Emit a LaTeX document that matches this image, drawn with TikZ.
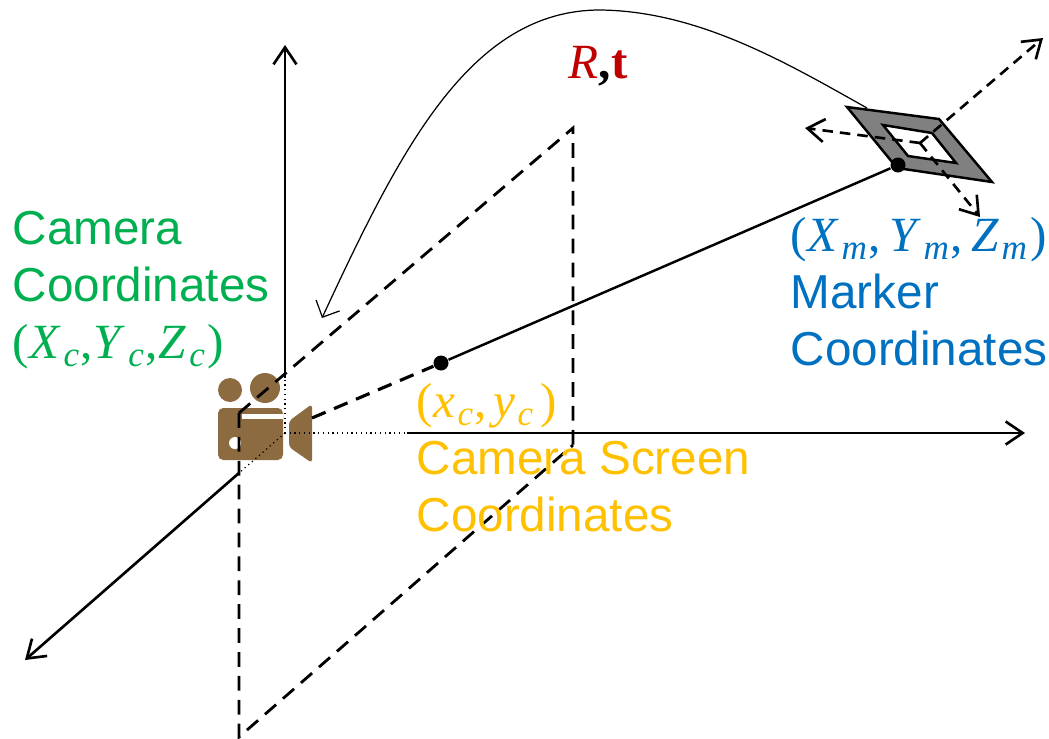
\documentclass[tikz,border=0pt]{standalone}
\usepackage{fontspec}
\setmainfont{Liberation Sans}
\newfontfamily\eqnfont{Liberation Serif}
\usepackage{tikz}
\usetikzlibrary{arrows.meta}
\definecolor{camgreen}{RGB}{0,176,80}
\definecolor{markblue}{RGB}{0,112,192}
\definecolor{screenyellow}{RGB}{255,192,0}
\definecolor{posered}{RGB}{192,0,0}
\definecolor{iconbrown}{RGB}{139,107,63}
\newcommand{\eqnsize}{\eqnfont\fontsize{14}{16.2}\selectfont}
\newcommand{\coordvar}[2]{\textit{#1}\kern0.8pt\raisebox{-2.2pt}{\fontsize{10}{10}\selectfont\textit{#2}}\kern0.3pt}

\begin{document}
\begin{tikzpicture}[
  axis/.style={-{Straight Barb[length=1.7mm,width=2.3mm]}, line width=0.75pt, black},
  dashaxis/.style={axis, dash pattern=on 3pt off 2pt},
  planeline/.style={line width=0.8pt, dash pattern=on 4.2pt off 2.6pt},
  ray/.style={line width=0.7pt, black},
  dotline/.style={line width=0.35pt, densely dotted},
  point/.style={circle, fill=black, inner sep=0pt, minimum size=0.15cm},
  caption/.style={font=\fontsize{13.55}{16.2}\selectfont, align=left, anchor=north west, inner sep=0pt}
]
  \useasboundingbox (0,0) rectangle (10.49,7.38);

  % camera icon
  \fill[iconbrown] (2.30,3.48) circle (0.12);
  \fill[iconbrown] (2.65,3.50) circle (0.15);
  \fill[iconbrown, rounded corners=1.5pt] (2.18,2.78) rectangle (2.83,3.30);
  \fill[white] (2.42,3.19) rectangle (2.83,3.24);
  \fill[white] (2.35,2.95) circle (0.06);
  \fill[iconbrown, rounded corners=1pt] (3.12,3.34) -- (2.89,3.17) -- (2.89,2.91) -- (3.12,2.75) -- cycle;

  \coordinate (origin) at (2.85,3.05);
  \coordinate (zjoint) at (2.85,3.60);
  \coordinate (ztip) at (2.85,6.93);
  \coordinate (xjoint) at (4.07,3.05);
  \coordinate (xtip) at (10.25,3.05);
  \coordinate (yjoint) at (2.39,2.65);
  \coordinate (ytip) at (0.25,0.78);

  \coordinate (planetr) at (5.73,6.10);
  \coordinate (planebr) at (5.73,2.93);
  \coordinate (planebl) at (2.39,0.01);
  \coordinate (planetl) at (2.39,3.25);

  \draw[dotline] (origin) -- (zjoint);
  \draw[dotline] (origin) -- (xjoint);
  \draw[dotline] (origin) -- (yjoint);
  \draw[axis] (zjoint) -- (ztip);
  \draw[axis] (xjoint) -- (xtip);
  \draw[axis] (yjoint) -- (ytip);

  \draw[planeline] (planetl) -- (planetr) -- (planebr);
  \draw[planeline] (planetl) -- (planebl) -- (planebr);

  % marker plate
  \fill[fill=gray, even odd rule, draw=black, line width=0.7pt]
    (8.47,6.31) -- (9.39,6.19) -- (9.92,5.56) -- (8.97,5.70) -- cycle
    (8.83,6.13) -- (9.32,6.05) -- (9.56,5.75) -- (9.08,5.82) -- cycle;

  \coordinate (mcentre) at (9.20,5.95);
  \coordinate (mtipa) at (10.43,7.00);
  \coordinate (mtipb) at (8.05,6.10);
  \coordinate (mtipc) at (9.80,5.21);
  \draw[dashaxis] (mcentre) -- (mtipa);
  \draw[dashaxis] (mcentre) -- (mtipb);
  \draw[dashaxis] (mcentre) -- (mtipc);

  \coordinate (lens) at (3.12,3.20);
  \node[point] (screenpt) at (4.41,3.75) {};
  \node[point] (markerpt) at (8.98,5.73) {};
  \draw[ray] (screenpt) -- (markerpt);
  \draw[planeline, line width=0.9pt] (lens) -- (screenpt);

  % pose arrow
  \coordinate (posestart) at (8.67,6.30);
  \coordinate (posetop) at (6.00,7.28);
  \coordinate (poseend) at (3.22,4.20);
  \draw[-{Straight Barb[length=1.3mm,width=2.6mm]}, line width=0.35pt]
    (posestart) .. controls (7.90,6.73) and (7.00,7.27) .. (posetop)
    .. controls (4.70,7.28) and (4.00,5.88) .. (poseend);

  \node[caption, anchor=base west] (pose) at (5.68,6.60)
    {\eqnsize\textcolor{posered}{\textit{R}}\textbf{,}\textcolor{posered}{\textbf{t}}};
  \node[caption, text=camgreen] (camtext) at (0.12,5.27)
    {Camera\\Coordinates\\{\eqnsize(\coordvar{X}{c},\kern0.4pt\coordvar{Y}{c},\kern0.4pt\coordvar{Z}{c}\kern0.5pt)}};
  \node[caption, text=markblue] (marktext) at (7.90,5.21)
    {{\eqnsize(\coordvar{X}{m},\kern2.5pt\coordvar{Y}{m},\kern2.5pt\coordvar{Z}{m}\kern0.6pt)}\\Marker\\Coordinates};
  \node[caption, text=screenyellow] (screentext) at (4.16,3.55)
    {{\eqnsize(\coordvar{x}{c},\kern1.8pt\coordvar{y}{c}\kern1.7pt)}\\Camera Screen\\Coordinates};
\end{tikzpicture}
\end{document}
